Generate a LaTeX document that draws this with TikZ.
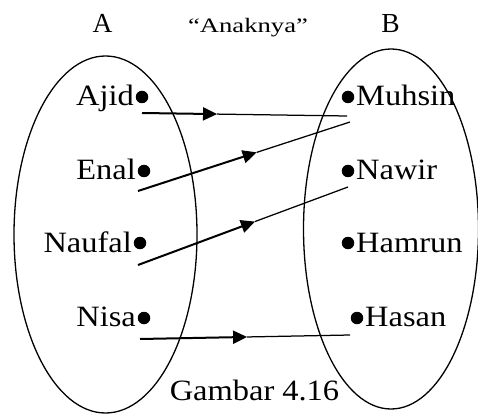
\documentclass[tikz,border=0pt]{standalone}
\usepackage{fontspec}
\setmainfont{Liberation Serif}
\newfontfamily\lblfont{Liberation Serif}[FakeStretch=1.1]
\newfontfamily\qfont{Liberation Serif}[FakeStretch=1.3]
\usetikzlibrary{calc,arrows.meta}
\tikzset{
  setline/.style={line width=1.3pt},
  dotnode/.style={circle,fill=black,inner sep=0pt,minimum size=12.5pt},
  lbl/.style={inner sep=0pt,font=\lblfont\fontsize{29.5}{32}\selectfont},
  head/.style={inner sep=0pt,font=\fontsize{27.5}{30}\selectfont},
  qhead/.style={inner sep=0pt,font=\qfont\fontsize{20.5}{24}\selectfont},
  thickarr/.style={line width=2pt,-{Triangle[length=14pt,width=13pt]}},
  thinline/.style={line width=1.25pt}
}
\begin{document}
\begin{tikzpicture}[x=1pt,y=1pt]
\useasboundingbox (0,0) rectangle (478,415);
% sets
\draw[setline] (105.5,180.5) ellipse [x radius=91.5, y radius=178.5];
\draw[setline] (391,186) ellipse [x radius=87.5, y radius=180];
% headings
\node[head,anchor=base] (hA) at (102.5,382.3) {A};
\node[qhead,anchor=base] (hR) at (248,382.3) {“Anaknya”};
\node[head,anchor=base] (hB) at (390.5,382.3) {B};
\node[lbl,anchor=base] (cap) at (254.5,15) {Gambar 4.16};
% left elements
\node[dotnode] (ajid) at (142,318) {};
\node[dotnode] (enal) at (144,244) {};
\node[dotnode] (naufal) at (140,172) {};
\node[dotnode] (nisa) at (144,97) {};
\node[lbl,anchor=base east] (tajid) at (134,309) {Ajid};
\node[lbl,anchor=base east] (tenal) at (136,235) {Enal};
\node[lbl,anchor=base east] (tnaufal) at (132,163) {Naufal};
\node[lbl,anchor=base east] (tnisa) at (136,89) {Nisa};
% right elements
\node[dotnode] (muhsin) at (348,318) {};
\node[dotnode] (nawir) at (348,244) {};
\node[dotnode] (hamrun) at (348,172) {};
\node[dotnode] (hasan) at (357,97) {};
\node[lbl,anchor=base west] (tmuhsin) at (356,309) {Muhsin};
\node[lbl,anchor=base west] (tnawir) at (356,235) {Nawir};
\node[lbl,anchor=base west] (thamrun) at (356,163) {Hamrun};
\node[lbl,anchor=base west] (thasan) at (365,89) {Hasan};
% connector ends
\coordinate (s1) at ($(ajid)+(0,-16)$);
\coordinate (e1) at ($(muhsin)+(-1,-19)$);
\coordinate (s2) at ($(enal)+(-6,-20)$);
\coordinate (e2) at ($(muhsin)+(2,-25)$);
\coordinate (s3) at ($(naufal)+(-2,-22)$);
\coordinate (e3) at ($(nawir)+(0,-16)$);
\coordinate (s4) at ($(nisa)+(-4,-21)$);
\coordinate (e4) at ($(hasan)+(-7,-17)$);
\coordinate (m1) at ($(s1)!0.366!(e1)$);
\coordinate (m2) at ($(s2)!0.56!(e2)$);
\coordinate (m3) at ($(s3)!0.557!(e3)$);
\coordinate (m4) at ($(s4)!0.51!(e4)$);
% connectors
\draw[thinline] (m1) -- (e1);
\draw[thickarr] (s1) -- (m1);
\draw[thinline] (m2) -- (e2);
\draw[thickarr] (s2) -- (m2);
\draw[thinline] (m3) -- (e3);
\draw[thickarr] (s3) -- (m3);
\draw[thinline] (m4) -- (e4);
\draw[thickarr] (s4) -- (m4);
\end{tikzpicture}
\end{document}
